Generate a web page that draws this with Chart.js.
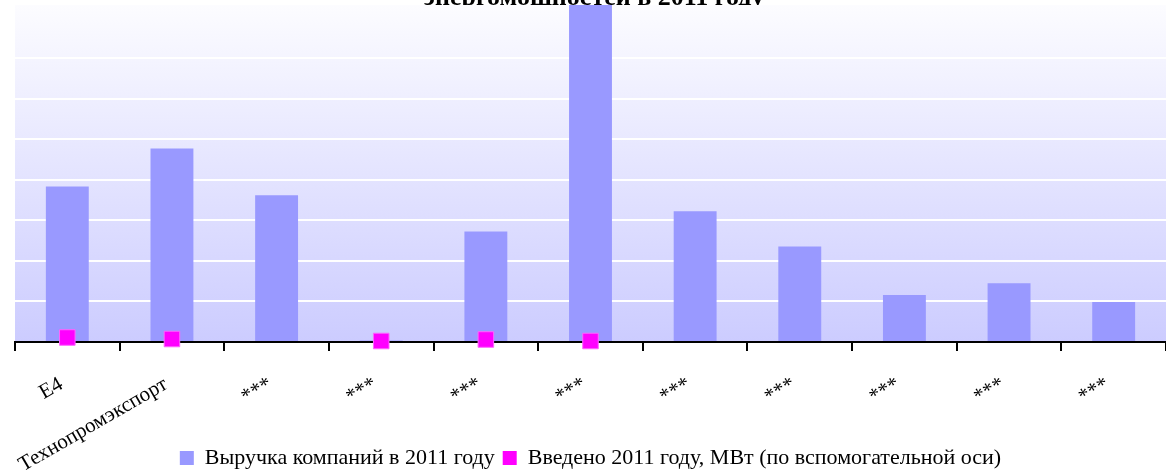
<!DOCTYPE html>
<html>
<head>
<meta charset="utf-8">
<script src="https://cdn.jsdelivr.net/npm/chart.js@4.4.1/dist/chart.umd.min.js"></script>
<style>
    html, body { margin: 0; padding: 0; background: #fff; }
    #wrap { width: 1166px; height: 470px; position: relative; }
</style>
</head>
<body>
<div id="wrap"><canvas id="chart-bars"></canvas></div>
<script>
// data (no axis labels, so revenue is in "grid steps")
const categories = ["E4", "Технопромэкспорт", "***", "***", "***", "***", "***", "***", "***", "***", "***"];
const revenue2011 = [3.84, 4.78, 3.62, 0.04, 2.73, 8.4, 3.23, 2.36, 1.16, 1.45, 0.99];
const mwAdded2011 = [45, 30, null, 10, 25, 10, null, null, null, null, null];
const seriesNames = ["Выручка компаний в 2011 году", "Введено 2011 году, МВт (по вспомогательной оси)"];
const titleText = "энергомощностей в 2011 году";

const serif = "'Liberation Serif', 'Times New Roman', serif";

// plot background gradient + cropped title
const plotBg = {
    id: "plotBg",
    afterLayout(chart) {
        // let the long rotated label run down into the legend area
        chart.scales.x.bottom = chart.height;
    },
    beforeDraw(chart) {
        const { ctx, chartArea: a } = chart;
        ctx.save();
        ctx.font = "bold 26px " + serif;
        ctx.fillStyle = "#000";
        ctx.textAlign = "center";
        ctx.textBaseline = "alphabetic";
        ctx.fillText(titleText, 594, 5);
        const g = ctx.createLinearGradient(0, a.top, 0, a.bottom);
        g.addColorStop(0, "#fcfcff");
        g.addColorStop(1, "#ccccff");
        ctx.fillStyle = g;
        ctx.fillRect(a.left, a.top, a.right - a.left, a.bottom - a.top);
        ctx.restore();
    }
};

document.addEventListener("DOMContentLoaded", function () {
    const ctx = document.getElementById("chart-bars").getContext("2d");

    new Chart(ctx, {
        type: "bar",
        data: {
            labels: categories,
            datasets: [{
                label: seriesNames[0],
                data: revenue2011,
                backgroundColor: "#9999ff",
                borderWidth: 0,
                barPercentage: 0.41,
                categoryPercentage: 1,
                yAxisID: "y",
                order: 1
            }, {
                type: "line",
                label: seriesNames[1],
                data: mwAdded2011,
                showLine: false,
                clip: false,
                borderColor: "#ff00ff",
                backgroundColor: "#ff00ff",
                borderWidth: 0,
                pointStyle: "rect",
                pointRadius: 11,
                pointBorderWidth: 1,
                pointBorderColor: "#ff66ff",
                pointBackgroundColor: "#ff00ff",
                yAxisID: "y2",
                order: 0
            }]
        },
        options: {
            responsive: true,
            maintainAspectRatio: false,
            animation: false,
            devicePixelRatio: 1,
            layout: { autoPadding: false, padding: { top: 5, left: 15, right: 0, bottom: -9 } },
            plugins: {
                title: { display: false },
                tooltip: { enabled: false },
                legend: {
                    position: "bottom",
                    reverse: true,
                    labels: {
                        boxWidth: 14,
                        boxHeight: 14,
                        padding: 8,
                        color: "#000",
                        font: { family: serif, size: 22 }
                    }
                }
            },
            scales: {
                x: {
                    offset: true,
                    afterFit(scale) { scale.height = 97; },
                    border: { display: true, color: "#000", width: 2 },
                    grid: {
                        offset: true,
                        drawOnChartArea: false,
                        drawTicks: true,
                        tickLength: 9,
                        color: "#000",
                        lineWidth: 2
                    },
                    ticks: {
                        autoSkip: false,
                        maxRotation: 30,
                        minRotation: 30,
                        padding: 21,
                        labelOffset: -6,
                        color: "#000",
                        font: { family: serif, size: 21 }
                    }
                },
                y: {
                    min: 0,
                    max: 8.32,
                    afterFit(scale) { scale.width = 0; },
                    border: { display: false },
                    grid: {
                        drawTicks: false,
                        lineWidth: 2,
                        color: (c) => (c.tick && c.tick.value > 0 && Number.isInteger(c.tick.value)) ? "#ffffff" : "rgba(0,0,0,0)"
                    },
                    ticks: { display: false, stepSize: 1 }
                },
                y2: {
                    display: false,
                    position: "right",
                    min: 0,
                    max: 3380
                }
            }
        },
        plugins: [plotBg]
    });
});
</script>
</body>
</html>
